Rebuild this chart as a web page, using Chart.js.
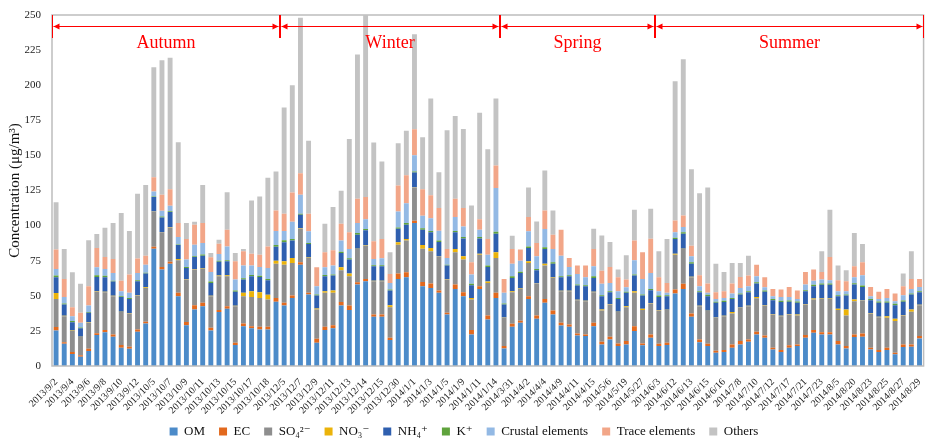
<!DOCTYPE html>
<html>
<head>
<meta charset="utf-8">
<script src="https://cdn.jsdelivr.net/npm/chart.js@4/dist/chart.umd.min.js"></script>
<style>
  html, body { margin: 0; padding: 0; background: #fff; }
  #wrap { width: 930px; height: 440px; }
</style>
</head>
<body>
<div id="wrap"><canvas id="compChart"></canvas></div>
<script>
// sampling dates, one label for every two samples
const dateLabels = ['2013/9/2','2013/9/4','2013/9/6','2013/9/8','2013/9/10','2013/9/12','2013/10/5','2013/10/7','2013/10/9','2013/10/11','2013/10/13','2013/10/15','2013/10/17','2013/10/18',
    '2013/12/5','2013/12/7','2013/12/9','2013/12/11','2013/12/13','2013/12/14','2013/12/15','2013/12/30','2014/1/1','2014/1/3','2014/1/5','2014/1/9','2014/1/11','2014/1/14',
    '2014/3/31','2014/4/2','2014/4/4','2014/4/9','2014/4/11','2014/4/15','2014/5/6','2014/5/19','2014/5/27',
    '2014/6/3','2014/6/12','2014/6/13','2014/6/15','2014/6/16','2014/7/8','2014/7/10','2014/7/12','2014/7/17','2014/7/21','2014/7/23','2014/8/5','2014/8/20','2014/8/23','2014/8/25','2014/8/27','2014/8/29'];

const seasonNames = ['Autumn', 'Winter', 'Spring', 'Summer'];
const seasonStarts = [0, 28, 55, 74];

const yTicks = [0, 25, 50, 75, 100, 125, 150, 175, 200, 225, 250];

const om = [25.3,15.9,8.5,6.6,10.7,22.0,24.1,20.8,13.0,12.3,24.4,30.3,83.6,68.7,72.9,49.7,29.1,40.2,42.6,25.3,38.4,40.7,14.9,28.4,26.8,26.0,26.0,45.8,
    43.1,48.5,72.2,50.9,16.6,25.6,26.8,43.1,39.8,58.0,60.4,35.0,35.0,18.5,62.0,63.2,101.8,56.8,55.6,52.1,36.7,54.9,49.7,22.5,54.9,33.1,48.5,
    12.5,27.9,30.8,47.8,33.6,45.0,36.7,28.9,27.9,21.8,21.3,28.4,15.4,18.9,14.2,15.4,24.9,14.7,20.1,
    14.2,14.9,51.6,54.9,35.0,17.0,14.2,9.5,9.9,13.0,15.4,17.3,22.5,20.1,11.8,9.9,13.0,14.2,20.1,23.7,22.5,22.5,15.4,12.5,20.6,20.8,11.8,9.9,11.4,8.3,13.5,13.7,19.6];
const ec = [2.4,1.1,1.5,1.0,1.6,1.4,1.5,1.7,1.9,1.4,1.6,1.2,1.4,1.9,1.4,2.4,2.2,3.1,2.4,1.9,1.4,1.9,1.7,1.9,1.6,1.9,1.9,2.6,
    1.9,1.7,1.7,1.2,2.8,2.3,2.3,2.4,3.3,1.7,1.6,1.7,1.7,1.6,3.8,3.6,1.7,3.1,3.1,1.6,1.2,3.1,2.9,3.1,1.9,2.9,3.6,
    1.7,2.2,1.4,1.9,2.4,2.8,2.8,1.9,1.7,1.4,1.2,2.4,1.9,1.9,1.9,2.4,3.5,1.4,2.4,
    1.7,1.7,2.9,3.6,2.4,1.9,1.7,1.4,1.5,2.4,2.4,1.6,1.9,1.7,1.2,1.5,1.7,1.2,1.9,1.9,1.6,1.6,2.4,1.7,1.9,2.4,1.2,1.5,1.6,1.2,1.9,1.7,1.7];
const so4 = [20.1,18.5,14.9,13.0,18.5,29.4,27.0,27.2,23.5,23.7,24.2,24.1,24.8,24.6,24.4,23.2,30.3,25.4,24.1,22.5,24.1,21.3,26.0,19.4,20.8,20.6,19.4,24.5,
    27.2,23.2,23.9,24.8,20.8,24.2,23.0,22.7,20.8,23.6,23.7,23.7,23.7,21.8,20.6,22.5,23.6,23.7,23.0,24.4,23.7,23.0,23.2,21.7,22.5,23.2,24.8,
    20.1,22.5,22.7,23.7,22.7,23.7,23.2,22.5,23.7,23.7,23.7,21.8,22.2,23.0,22.3,24.1,23.7,23.7,22.0,
    23.6,23.2,24.8,24.8,25.8,23.7,23.2,23.4,24.1,22.0,23.6,23.7,23.9,21.3,23.7,24.1,22.0,20.6,21.8,21.7,23.7,23.7,22.0,21.8,23.7,23.4,24.2,23.4,21.3,22.5,20.6,23.2,22.0];
const no3 = [4.2,0.3,0.3,0.3,0.3,0.5,0.3,0.3,0.3,0.3,0.3,0.5,0.3,0.3,0.3,0.9,0.3,0.3,0.3,0.3,0.5,0.7,0.3,2.4,4.1,4.0,3.5,2.0,
    2.4,3.5,0.3,0.3,0.8,1.2,1.6,2.1,1.9,0.3,0.3,0.3,0.3,1.4,1.7,1.1,0.3,2.6,2.3,0.3,0.3,2.3,2.3,1.2,0.7,0.9,4.1,
    0.3,0.7,0.3,1.2,0.3,1.4,0.3,0.3,0.3,0.3,0.3,0.3,0.7,0.3,0.3,0.7,1.2,0.9,0.3,
    0.3,0.3,0.7,0.3,0.3,0.3,0.3,0.3,0.3,1.0,0.3,0.3,0.9,0.3,0.3,0.3,0.3,0.7,0.3,0.8,0.3,0.3,0.9,4.2,1.1,0.3,0.3,0.3,1.2,1.6,0.3,1.6,0.3];
const nh4 = [11.2,8.0,6.0,5.9,6.8,10.1,10.3,10.1,10.5,10.1,9.9,9.7,10.2,10.3,10.6,10.0,7.9,8.7,9.2,9.2,9.9,10.0,9.9,9.5,10.6,10.9,10.3,10.1,
    13.5,12.4,9.6,9.7,9.2,10.6,10.7,10.2,10.0,9.9,10.6,10.3,10.3,10.4,9.7,10.2,10.4,10.9,11.2,9.9,9.6,11.9,12.8,9.0,10.9,10.4,13.2,
    9.2,9.4,11.1,9.4,9.2,10.4,9.9,9.6,10.3,10.1,10.3,9.8,9.5,8.5,9.1,9.5,11.1,9.5,9.2,
    9.4,9.6,10.4,10.6,9.4,9.7,10.3,10.4,9.7,9.4,9.2,9.7,9.5,9.4,9.9,9.7,8.7,8.3,9.2,8.7,9.7,9.7,9.0,10.0,10.7,9.4,9.4,9.9,9.5,9.7,9.4,10.7,9.0];
const kPlus = [1.2,0.7,0.8,0.7,0.5,1.2,1.0,0.7,0.5,0.7,0.7,0.7,0.5,0.7,0.7,0.4,0.7,0.5,0.9,0.9,0.7,0.7,0.9,0.9,1.0,0.8,0.9,1.1,
    1.4,1.1,0.7,0.7,0.7,1.0,0.7,0.9,0.9,1.2,0.9,0.7,0.7,0.8,0.9,1.2,0.7,1.1,0.9,1.0,0.7,0.9,1.0,1.0,1.0,1.0,1.4,
    0.7,1.2,0.9,1.2,0.9,1.2,1.0,0.7,0.7,0.7,0.7,1.2,0.7,0.7,0.7,0.7,0.7,0.7,0.9,
    1.0,0.7,1.0,1.0,1.0,0.7,1.0,0.7,0.9,0.7,0.7,0.7,1.0,0.9,0.9,0.9,0.9,0.9,0.7,1.0,0.9,0.9,0.7,0.7,0.9,1.0,0.9,0.9,0.9,1.0,0.9,0.7,0.7];
const crustal = [4.7,4.7,3.5,3.3,4.7,5.7,4.9,5.5,3.6,3.6,5.2,5.7,3.5,4.0,3.8,5.3,5.3,8.2,8.1,6.9,4.8,9.9,7.9,9.0,6.6,6.4,7.8,10.0,
    6.6,12.3,13.5,8.3,5.9,5.4,6.4,7.9,6.6,7.1,7.1,4.5,5.0,4.7,11.4,14.2,11.6,8.8,9.2,7.1,4.7,10.0,7.5,6.6,5.2,7.8,31.1,
    7.6,9.0,7.8,10.7,9.0,13.0,9.4,14.7,5.9,7.6,5.7,7.1,8.1,5.9,4.8,3.3,10.2,11.1,11.4,
    3.1,1.7,3.8,3.8,4.2,3.5,1.4,2.1,2.1,3.1,4.0,3.5,4.2,2.4,1.9,2.8,2.6,1.9,4.0,3.0,2.9,2.4,2.9,2.4,4.3,7.3,1.9,1.9,2.6,1.9,3.8,3.3,3.0];
const trace = [13.8,12.8,6.4,7.1,13.7,13.7,8.6,9.9,7.5,13.0,10.2,6.4,10.2,11.4,11.8,9.9,14.6,14.2,14.2,10.4,7.3,11.9,13.0,10.2,8.5,8.7,15.4,14.7,
    12.3,20.9,15.4,12.5,13.5,10.7,10.9,12.0,11.9,17.3,15.7,12.6,13.7,6.4,18.5,19.9,18.5,18.9,16.4,16.1,6.4,13.0,13.1,8.8,7.5,11.1,16.1,
    9.9,10.4,7.9,10.2,9.5,13.3,10.2,18.5,6.4,5.9,8.3,12.3,9.4,11.3,9.9,5.5,14.0,19.0,24.4,
    9.9,7.1,8.5,8.2,7.6,7.8,6.6,4.8,4.8,7.1,7.8,7.6,8.3,7.1,5.2,5.3,7.1,5.9,9.0,7.9,5.4,16.6,7.8,7.1,7.8,9.3,6.6,5.0,6.4,5.4,6.4,7.1,5.7];
const others = [33.8,21.3,24.9,20.6,32.7,10.0,20.8,25.6,48.1,31.0,46.1,50.4,78.3,95.9,93.6,57.5,11.4,2.1,27.2,3.1,2.9,26.7,5.9,1.6,37.9,41.4,48.8,27.7,
    75.8,76.4,110.7,52.1,0,20.3,30.8,23.5,66.5,102.7,129.5,70.3,55.2,15.4,30.0,31.7,67.7,37.0,68.9,25.5,84.7,58.9,56.3,40.4,75.8,64.0,47.8,
    0,9.5,0,21.0,15.4,28.4,17.3,0,0,0,0,14.5,25.1,17.8,5.5,17.2,22.0,0,21.3,
    18.5,31.2,99.2,111.3,54.5,58.5,68.4,20.3,13.7,14.7,10.0,14.2,0,0,0,0,0,0,0,0,14.7,33.6,10.4,7.8,23.7,13.0,0,0,0,0,9.0,19.7,0];

// two samples per labelled date
const categories = dateLabels.flatMap(d => [d, d]).slice(0, om.length);

const serif = "'Liberation Serif', 'DejaVu Serif', serif";

const seriesDefs = [
    { label: 'OM', data: om, color: '#4C8BC9' },
    { label: 'EC', data: ec, color: '#E2691E' },
    { label: 'SO₄²⁻', data: so4, color: '#8E8E8E' },
    { label: 'NO₃⁻', data: no3, color: '#EBB30A' },
    { label: 'NH₄⁺', data: nh4, color: '#2F5FAF' },
    { label: 'K⁺', data: kPlus, color: '#5FA33C' },
    { label: 'Crustal elements', data: crustal, color: '#93B9E4' },
    { label: 'Trace elements', data: trace, color: '#F2A688' },
    { label: 'Others', data: others, color: '#C3C3C3' }
];

// grey frame round the plot area
const framePlugin = {
    id: 'frame',
    afterDatasetsDraw(chart) {
        const { ctx, chartArea } = chart;
        ctx.save();
        ctx.strokeStyle = '#BDBDBD';
        ctx.lineWidth = 1.5;
        ctx.strokeRect(chartArea.left, chartArea.top, chartArea.right - chartArea.left, chartArea.bottom - chartArea.top);
        ctx.restore();
    }
};

// legend box is kept short; raise its top so the row sits under the date labels
const legendShift = {
    id: 'legendShift',
    afterLayout(chart) {
        if (chart.legend) {
            chart.legend.top -= 15;
        }
    }
};

// red season spans with double arrows along the top
const seasonPlugin = {
    id: 'seasons',
    afterDraw(chart) {
        const { ctx, chartArea, scales: { x } } = chart;
        const half = (x.getPixelForValue(1) - x.getPixelForValue(0)) / 2;
        const top = chartArea.top;
        const yLine = top + 11.5;

        const arrow = (px, dir) => {
            ctx.beginPath();
            ctx.moveTo(px, yLine);
            ctx.lineTo(px + dir * 6, yLine - 3);
            ctx.lineTo(px + dir * 6, yLine + 3);
            ctx.closePath();
            ctx.fill();
        };

        ctx.save();
        ctx.strokeStyle = '#FF0000';
        ctx.fillStyle = '#FF0000';
        ctx.lineWidth = 1;
        seasonNames.forEach((name, i) => {
            const start = seasonStarts[i];
            const end = i + 1 < seasonStarts.length ? seasonStarts[i + 1] - 1 : categories.length - 1;
            const left = Math.round(x.getPixelForValue(start) - half) + 0.5;
            const right = Math.round(x.getPixelForValue(end) + half) - 0.5;

            [left, right].forEach(px => {
                ctx.beginPath();
                ctx.moveTo(px, top);
                ctx.lineTo(px, top + 23);
                ctx.stroke();
            });

            ctx.beginPath();
            ctx.moveTo(left + 1, yLine);
            ctx.lineTo(right - 1, yLine);
            ctx.stroke();
            arrow(left + 1, 1);
            arrow(right - 1, -1);

            ctx.font = '18px ' + serif;
            ctx.textAlign = 'center';
            ctx.textBaseline = 'middle';
            ctx.fillText(name, (left + right) / 2, top + 28);
        });
        ctx.restore();
    }
};

const ctx = document.getElementById('compChart').getContext('2d');
new Chart(ctx, {
    type: 'bar',
    data: {
        labels: categories,
        datasets: seriesDefs.map(s => ({
            label: s.label,
            data: s.data,
            backgroundColor: s.color,
            borderWidth: 0,
            categoryPercentage: 1,
            barPercentage: 0.6
        }))
    },
    options: {
        responsive: true,
        maintainAspectRatio: false,
        animation: false,
        layout: {
            padding: { top: 15, right: 2, left: 0, bottom: 0 }
        },
        scales: {
            x: {
                stacked: true,
                grid: { display: false },
                border: { display: false },
                ticks: {
                    autoSkip: false,
                    minRotation: 45,
                    maxRotation: 45,
                    padding: 2,
                    color: '#222',
                    font: { family: serif, size: 10 },
                    callback: (value, index) => index % 2 === 0 ? categories[index] : ''
                },
                afterFit: (scale) => { scale.height = 60; }
            },
            y: {
                stacked: true,
                min: 0,
                max: 250,
                grid: { display: false },
                border: { display: false },
                afterBuildTicks: (scale) => { scale.ticks = yTicks.map(v => ({ value: v })); },
                ticks: {
                    padding: 3,
                    color: '#222',
                    font: { family: serif, size: 11 }
                },
                title: {
                    display: true,
                    text: 'Concentration (μg/m³)',
                    color: '#111',
                    font: { family: serif, size: 15 },
                    padding: { top: 6, bottom: 4 }
                },
                afterFit: (scale) => { scale.width = 52; }
            }
        },
        plugins: {
            legend: {
                position: 'bottom',
                maxHeight: 14,
                labels: {
                    boxWidth: 8,
                    boxHeight: 8,
                    padding: 14,
                    color: '#111',
                    font: { family: serif, size: 13 }
                }
            },
            tooltip: { enabled: false }
        }
    },
    plugins: [framePlugin, legendShift, seasonPlugin]
});
</script>
</body>
</html>
